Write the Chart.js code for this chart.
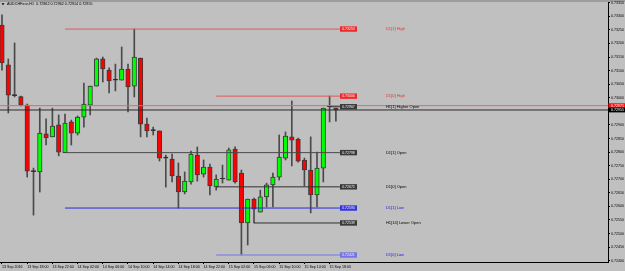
<!DOCTYPE html>
<html><head><meta charset="utf-8">
<script src="https://cdn.jsdelivr.net/npm/chart.js@4/dist/chart.umd.min.js"></script>
<style>html,body{margin:0;padding:0;background:#c0c0c0;overflow:hidden}canvas{display:block}</style>
</head><body>
<canvas id="c" width="625" height="271"></canvas>
<script>
// ---------------- data ----------------
const symbolTitle = "AUDCHFecn,H1";
const timeLabels = ["13 Sep 2016","13 Sep 18:00","13 Sep 22:00","14 Sep 02:00","14 Sep 06:00","14 Sep 10:00","14 Sep 14:00","14 Sep 18:00","14 Sep 22:00","15 Sep 02:00","15 Sep 06:00","15 Sep 10:00","15 Sep 14:00","15 Sep 18:00"];
const timeLabelBars = [0,4,8,12,16,20,24,28,32,36,40,44,48,52];
const priceTicks = [0.73350,0.73300,0.73250,0.73200,0.73150,0.73100,0.73050,0.73000,0.72950,0.72900,0.72850,0.72800,0.72750,0.72700,0.72650,0.72600,0.72550,0.72500,0.72450,0.72400];

const opens = [0.73268,0.73121,0.73008,0.73004,0.72973,0.72728,0.72727,0.72867,0.72856,0.72900,
0.72798,0.72911,0.72870,0.72929,0.72973,0.73043,0.73143,0.73102,0.73065,0.73065,
0.73106,0.73043,0.73146,0.72903,0.72879,0.72878,0.72778,0.72774,0.72712,0.72653,
0.72690,0.72789,0.72719,0.72745,0.72672,0.72701,0.72697,0.72811,0.72723,0.72539,
0.72627,0.72579,0.72635,0.72679,0.72708,0.72778,0.72856,0.72848,0.72771,0.72734,
0.72642,0.72741,0.72967,0.72962];
const highs = [0.73305,0.73143,0.73202,0.73006,0.72977,0.72741,0.72962,0.72922,0.72962,0.72937,
0.72940,0.72918,0.72933,0.73054,0.73043,0.73146,0.73150,0.73110,0.73124,0.73187,
0.73124,0.73253,0.73146,0.72925,0.72892,0.72878,0.72789,0.72793,0.72760,0.72727,
0.72804,0.72819,0.72771,0.72756,0.72716,0.72752,0.72815,0.72819,0.72734,0.72627,
0.72631,0.72660,0.72686,0.72723,0.72863,0.72874,0.72988,0.72852,0.72778,0.72856,
0.72800,0.72962,0.73006,0.72962];
const lows = [0.73102,0.72944,0.73003,0.72970,0.72708,0.72568,0.72653,0.72826,0.72856,0.72786,
0.72798,0.72826,0.72863,0.72892,0.72937,0.73043,0.73058,0.73018,0.73025,0.73065,
0.72948,0.73003,0.72856,0.72856,0.72863,0.72767,0.72671,0.72690,0.72594,0.72646,
0.72682,0.72693,0.72708,0.72642,0.72660,0.72686,0.72697,0.72686,0.72421,0.72458,
0.72539,0.72579,0.72598,0.72598,0.72697,0.72771,0.72749,0.72763,0.72675,0.72576,
0.72598,0.72690,0.72911,0.72914];
const closes = [0.73128,0.73010,0.73008,0.72973,0.72730,0.72728,0.72870,0.72852,0.72896,0.72800,
0.72907,0.72870,0.72929,0.72977,0.73043,0.73143,0.73106,0.73062,0.73065,0.73106,
0.73040,0.73150,0.72903,0.72878,0.72879,0.72778,0.72778,0.72712,0.72653,0.72693,
0.72793,0.72716,0.72745,0.72675,0.72701,0.72701,0.72808,0.72690,0.72539,0.72627,
0.72590,0.72635,0.72679,0.72708,0.72782,0.72859,0.72844,0.72767,0.72734,0.72642,
0.72741,0.72962,0.72967,0.72955];
const askPrice = 0.72971;

const levelNames = ["D1[1] High","D1[0] High","H1[1] Higher Open","D1[1] Open","D1[0] Open","D1[1] Low","H1[14] Lower Open","D1[0] Low"];
const levelValues = [0.73253,0.73006,0.72967,0.72798,0.72672,0.72594,0.72539,0.72421];
const levelStartBars = [10,34,52,10,34,10,40,34];

// ---------------- styles / layout ----------------
const FONT = "Liberation Sans";
const levelLineColor = ['#e05a5a','#e05a5a','#303030','#4a4a4a','#303030','#2a2ae0','#303030','#8c8ce0'];
const levelLineWidth = [1,1,1,1,1,1,1,1.6];
const levelBoxFill = ['#ee2a2a','#ee2a2a','#3a3a3a','#3a3a3a','#3a3a3a','#3535e0','#3a3a3a','#7474e6'];
const levelTextColor = ['#e83030','#e83030','#000000','#000000','#000000','#2020e0','#000000','#2020e0'];
const LINE_END = 53.65, TEXT_AT = 60.95, X_MIN = -0.317, X_MAX = 96.19;

Chart.defaults.font.family = FONT;

const datasets = [];
levelValues.forEach((v,i)=>{
  datasets.push({type:'line', data:[{x:levelStartBars[i],y:v},{x:LINE_END,y:v}], borderColor:levelLineColor[i], borderWidth:levelLineWidth[i], pointRadius:0, order:0});
});
datasets.push({type:'line', data:[{x:X_MIN-1,y:askPrice},{x:X_MAX+1,y:askPrice}], borderColor:'#e06a6a', borderWidth:1, pointRadius:0, order:0});
datasets.push({type:'line', data:[{x:X_MIN-1,y:closes[closes.length-1]},{x:X_MAX+1,y:closes[closes.length-1]}], borderColor:'#2a2a2a', borderWidth:1, pointRadius:0, order:0});
datasets.push({type:'bar', data:opens.map((o,i)=>({x:i,y:[o,closes[i]]})),
  backgroundColor:opens.map((o,i)=>closes[i]>o?'#00ff00':(closes[i]<o?'#ff0000':'#202020')),
  borderColor:'#3a3a3a', borderWidth:1, borderSkipped:false, barThickness:4.5, minBarLength:1, grouped:false, order:1});
datasets.push({type:'bar', data:lows.map((l,i)=>({x:i,y:[l,highs[i]]})),
  backgroundColor:'#4a4a4a', borderWidth:0, barThickness:1, grouped:false, order:2});

const overlay = {
  id:'overlay',
  beforeDraw(chart){
    const ctx=chart.ctx; ctx.save();
    ctx.fillStyle='#c0c0c0'; ctx.fillRect(0,0,chart.width,chart.height);
    ctx.fillStyle='#9c9c9c'; ctx.fillRect(0,0,chart.width,2);
    ctx.restore();
  },
  afterDatasetsDraw(chart){
    const xs=chart.scales.x, ys=chart.scales.y, ctx=chart.ctx;
    ctx.save();
    levelValues.forEach((v,i)=>{
      const py = ys.getPixelForValue(v);
      const bx = xs.getPixelForValue(LINE_END);
      ctx.fillStyle = levelBoxFill[i];
      ctx.fillRect(bx, py-2.7, 17, 5.4);
      ctx.fillStyle = '#f4f4f4';
      ctx.font = '3.5px "'+FONT+'"';
      ctx.textAlign='center'; ctx.textBaseline='middle';
      ctx.fillText(v.toFixed(5), bx+8.5, py+0.2);
      ctx.fillStyle = levelTextColor[i];
      ctx.font = '4px "'+FONT+'"';
      ctx.textAlign='left';
      ctx.fillText(levelNames[i], xs.getPixelForValue(TEXT_AT), py+0.2);
    });
    ctx.restore();
  },
  afterDraw(chart){
    const ys=chart.scales.y, ctx=chart.ctx, ca=chart.chartArea;
    ctx.save();
    ctx.font = '3.6px "'+FONT+'"';
    ctx.textBaseline='middle'; ctx.textAlign='left';
    const markers=[[askPrice,'#ff1010'],[closes[closes.length-1],'#000000']];
    markers.forEach(([v,c])=>{
      const py=ys.getPixelForValue(v);
      ctx.fillStyle=c; ctx.fillRect(ca.right+0.5, py-2.4, 17, 4.8);
      ctx.fillStyle='#ffffff'; ctx.fillText(v.toFixed(5), ca.right+3, py+0.2);
    });
    // title
    const n=opens.length-1;
    ctx.fillStyle='#000';
    ctx.beginPath(); ctx.moveTo(1.5,3.2); ctx.lineTo(4.5,3.2); ctx.lineTo(3,5.2); ctx.closePath(); ctx.fill();
    ctx.font = '3.7px "'+FONT+'"';
    ctx.fillText(symbolTitle+'  '+[opens[n],highs[n],lows[n],closes[n]].map(v=>v.toFixed(5)).join(' '), 7, 4.4);
    ctx.restore();
  }
};

new Chart(document.getElementById('c'), {
  type:'bar',
  data:{datasets},
  options:{
    responsive:false, animation:false, events:[],
    layout:{padding:{top:2,left:0,right:0,bottom:0}},
    plugins:{legend:{display:false}, tooltip:{enabled:false}},
    scales:{
      x:{type:'linear', min:X_MIN, max:X_MAX, offset:false, position:'bottom',
        afterBuildTicks:s=>{ s.ticks = timeLabelBars.map(b=>({value:b})); },
        ticks:{callback:(v,i)=>timeLabels[i], align:'start', autoSkip:false, maxRotation:0, font:{size:3.6}, color:'#000', padding:0.5},
        grid:{offset:false, drawOnChartArea:false, tickLength:2, color:'#000'},
        border:{color:'#000', width:1},
        afterFit:s=>{ s.height=9; s.paddingLeft=0; s.paddingRight=0; }
      },
      y:{type:'linear', position:'right', min:0.723953, max:0.733526,
        afterBuildTicks:s=>{ s.ticks = priceTicks.map(v=>({value:v})); },
        ticks:{callback:v=>Number(v).toFixed(5), autoSkip:false, font:{size:3.6}, color:'#000', padding:1},
        grid:{drawOnChartArea:false, tickLength:2, color:'#000'},
        border:{color:'#000', width:1},
        afterFit:s=>{ s.width=17; s.paddingTop=0; s.paddingBottom=0; }
      }
    }
  },
  plugins:[overlay]
});
</script>
</body></html>
